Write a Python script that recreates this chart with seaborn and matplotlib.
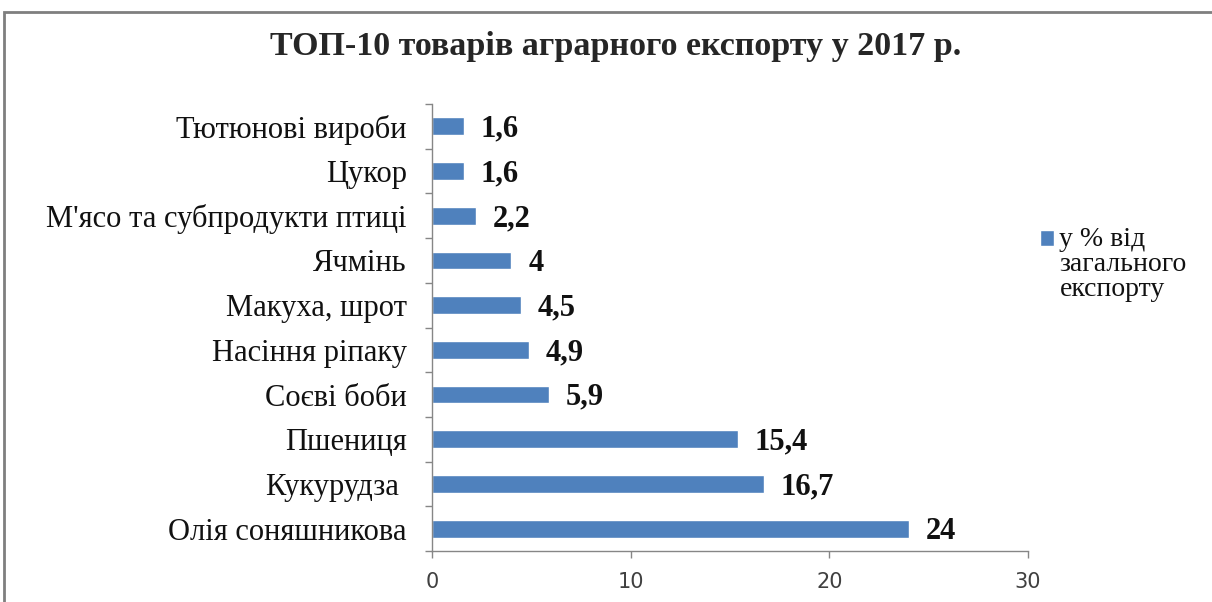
import matplotlib
matplotlib.use('Agg')
import matplotlib.pyplot as plt
import seaborn as sns
import pandas as pd
from matplotlib.patches import Rectangle

# Дані діаграми
categories = ["Тютюнові вироби", "Цукор", "М'ясо та субпродукти птиці", "Ячмінь",
              "Макуха, шрот", "Насіння ріпаку", "Соєві боби", "Пшениця",
              "Кукурудза ", "Олія соняшникова"]
values = [1.6, 1.6, 2.2, 4, 4.5, 4.9, 5.9, 15.4, 16.7, 24]
value_labels = ["1,6", "1,6", "2,2", "4", "4,5", "4,9", "5,9", "15,4", "16,7", "24"]
series_name = "у % від\nзагального\nекспорту"
title = "ТОП-10 товарів аграрного експорту у 2017 р."
x_ticks = [0, 10, 20, 30]

sns.set_style("white")
plt.rcParams['font.family'] = ['Liberation Serif', 'DejaVu Serif']

df = pd.DataFrame({'category': categories, 'value': values})

fig = plt.figure(figsize=(12.12, 6.02), dpi=100)
ax = fig.add_axes([432 / 1212, 51 / 602, 596 / 1212, 447 / 602])

sns.barplot(data=df, x='value', y='category', order=categories, color='#4F81BD',
            saturation=1, width=0.4, label=series_name, ax=ax)

# Підписи значень
for i, (v, lab) in enumerate(zip(values, value_labels)):
    ax.annotate(lab, (v, i), xytext=(12, -2), textcoords='offset points',
                va='center', ha='left', fontsize=22, fontweight='bold',
                color='#111111')

ax.set_xlim(0, 30)
ax.set_ylim(9.5, -0.5)
ax.set_xticks(x_ticks)
ax.set_xticklabels([str(t) for t in x_ticks], family='DejaVu Sans', fontsize=15,
                   color='#404040')
ax.set_xlabel('')
ax.set_ylabel('')

# Поділки між категоріями, підписи по центру
ax.set_yticks([i - 0.5 for i in range(len(categories) + 1)])
ax.set_yticklabels([])
ax.set_yticks(range(len(categories)), minor=True)
ax.set_yticklabels(categories, minor=True, fontsize=22, color='#111111')
ax.tick_params(axis='y', which='major', length=5, width=1, color='#868686', left=True)
ax.tick_params(axis='y', which='minor', length=0, pad=18)
ax.tick_params(axis='x', length=5, width=1, color='#868686', bottom=True, pad=10)

for side in ['top', 'right']:
    ax.spines[side].set_visible(False)
for side in ['left', 'bottom']:
    ax.spines[side].set_color('#868686')
    ax.spines[side].set_linewidth(1)

leg_fs = 20
leg = ax.legend(loc='upper left', bbox_to_anchor=(1040 / 1212, 1 - 227 / 602),
                bbox_transform=fig.transFigure, frameon=False, fontsize=leg_fs,
                handlelength=0.5, handleheight=0.5, handletextpad=0.2,
                borderpad=0, borderaxespad=0)
for t in leg.get_texts():
    t.set_linespacing(1.0)
    t.set_color('#111111')
# квадратик на рівні першого рядка
h = leg.legend_handles[0]
h.set_y(h.get_y() + 19)

fig.text(0.508, 1 - 47 / 602, title, ha='center', va='center', fontsize=24.5,
         fontweight='bold')

# Рамка діаграми
fig.patches.append(Rectangle((4 / 1212, -0.05), 1.1, 1 - 12 / 602 + 0.05,
                             transform=fig.transFigure, fill=False,
                             edgecolor='#7f7f7f', linewidth=2))

fig.savefig('out.png', dpi=100)
